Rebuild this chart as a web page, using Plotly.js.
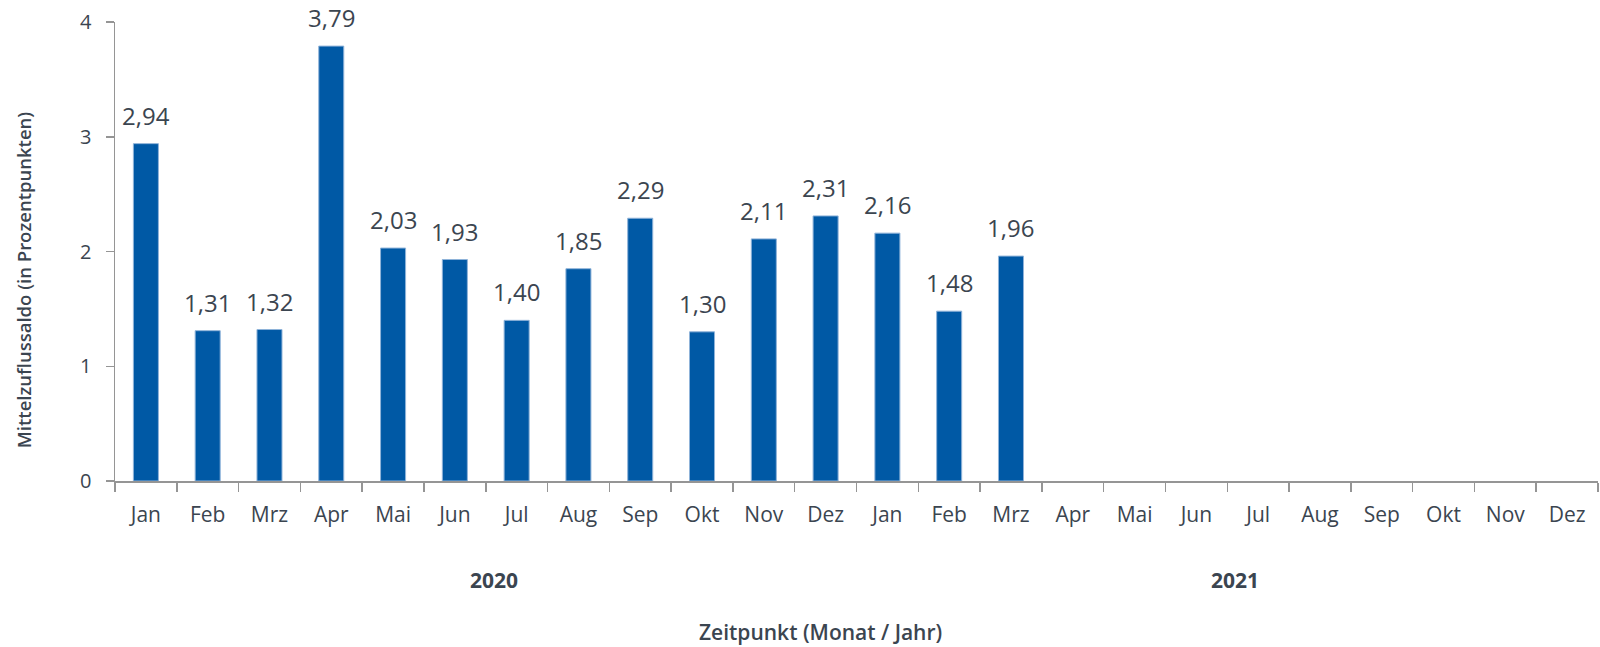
<!DOCTYPE html>
<html>
<head>
<meta charset="utf-8">
<script src="https://cdn.plot.ly/plotly-3.0.1.min.js"></script>
<style>
html,body{margin:0;padding:0;background:#fff;}
#chart{width:1600px;height:647px;}
</style>
</head>
<body>
<div id="chart"></div>
<script>
const months = ["Jan","Feb","Mrz","Apr","Mai","Jun","Jul","Aug","Sep","Okt","Nov","Dez",
                "Jan","Feb","Mrz","Apr","Mai","Jun","Jul","Aug","Sep","Okt","Nov","Dez"];
const years = ["2020","2020","2020","2020","2020","2020","2020","2020","2020","2020","2020","2020",
               "2021","2021","2021","2021","2021","2021","2021","2021","2021","2021","2021","2021"];
const values = [2.94,1.31,1.32,3.79,2.03,1.93,1.40,1.85,2.29,1.30,2.11,2.31,
                2.16,1.48,1.96,null,null,null,null,null,null,null,null,null];
const yearLabels = ["2020","2021"];
const yTicks = [0,1,2,3,4];

const textColor = "#3b4550";
const axisColor = "#959595";
const font = "Open Sans, sans-serif";

const cats = months.map((m,i)=> m + " " + years[i]);

const trace = {
  type: "bar",
  x: cats,
  y: values,
  marker: {color: "#0059a5", line: {color: "#8fb3d9", width: 1}},
  hoverinfo: "none"
};

const annotations = [];
values.forEach((v,i)=>{
  if (v === null) return;
  annotations.push({
    x: cats[i], y: v, xref: "x", yref: "y",
    text: v.toFixed(2).replace(".", ","),
    showarrow: false, yanchor: "bottom", xanchor: "center", yshift: 10,
    font: {family: font, size: 24, color: textColor}
  });
});
yearLabels.forEach(yl=>{
  const idx = years.map((y,i)=> y===yl ? i : -1).filter(i=>i>=0);
  const mid = (idx[0] + idx[idx.length-1]) / 2;
  annotations.push({
    x: mid, y: -0.2155, xref: "x", yref: "paper", xshift: 8,
    text: "<b>" + yl + "</b>", showarrow: false, yanchor: "middle", xanchor: "center",
    font: {family: font, size: 21, color: textColor}
  });
});
annotations.push({
  x: 0.4757, y: -0.33, xref: "paper", yref: "paper",
  text: "Zeitpunkt (Monat / Jahr)", showarrow: false, xanchor: "center", yanchor: "middle",
  font: {family: font, size: 21, color: textColor, weight: 600}
});
annotations.push({
  x: -0.062, y: 0.4376, xref: "paper", yref: "paper", textangle: -90,
  text: "Mittelzuflussaldo (in Prozentpunkten)", showarrow: false, xanchor: "center", yanchor: "middle",
  font: {family: font, size: 18.5, color: textColor, weight: 600}
});

const layout = {
  width: 1600, height: 647,
  margin: {l: 115, r: 2, t: 21.7, b: 166},
  paper_bgcolor: "#fff", plot_bgcolor: "#fff",
  bargap: 0.595,
  showlegend: false,
  xaxis: {
    type: "category",
    tickmode: "array", tickvals: cats, ticktext: months,
    tickson: "boundaries",
    ticks: "outside", ticklen: 9, tickwidth: 1.5, tickcolor: axisColor,
    showline: true, linecolor: axisColor, linewidth: 1.5,
    showgrid: false, zeroline: false,
    tickfont: {family: font, size: 21, color: textColor},
    ticklabelstandoff: 14,
    range: [-0.5, 23.5], fixedrange: true
  },
  yaxis: {
    range: [0, 4],
    tickmode: "array", tickvals: yTicks, ticktext: yTicks.map(String),
    ticks: "outside", ticklen: 8, tickwidth: 1.5, tickcolor: axisColor,
    showline: true, linecolor: axisColor, linewidth: 1.5,
    showgrid: false, zeroline: false,
    tickfont: {family: font, size: 20, color: textColor},
    ticklabelstandoff: 10,
    fixedrange: true
  },
  annotations: annotations
};

Plotly.newPlot("chart", [trace], layout, {displayModeBar: false, staticPlot: true});
</script>
</body>
</html>
